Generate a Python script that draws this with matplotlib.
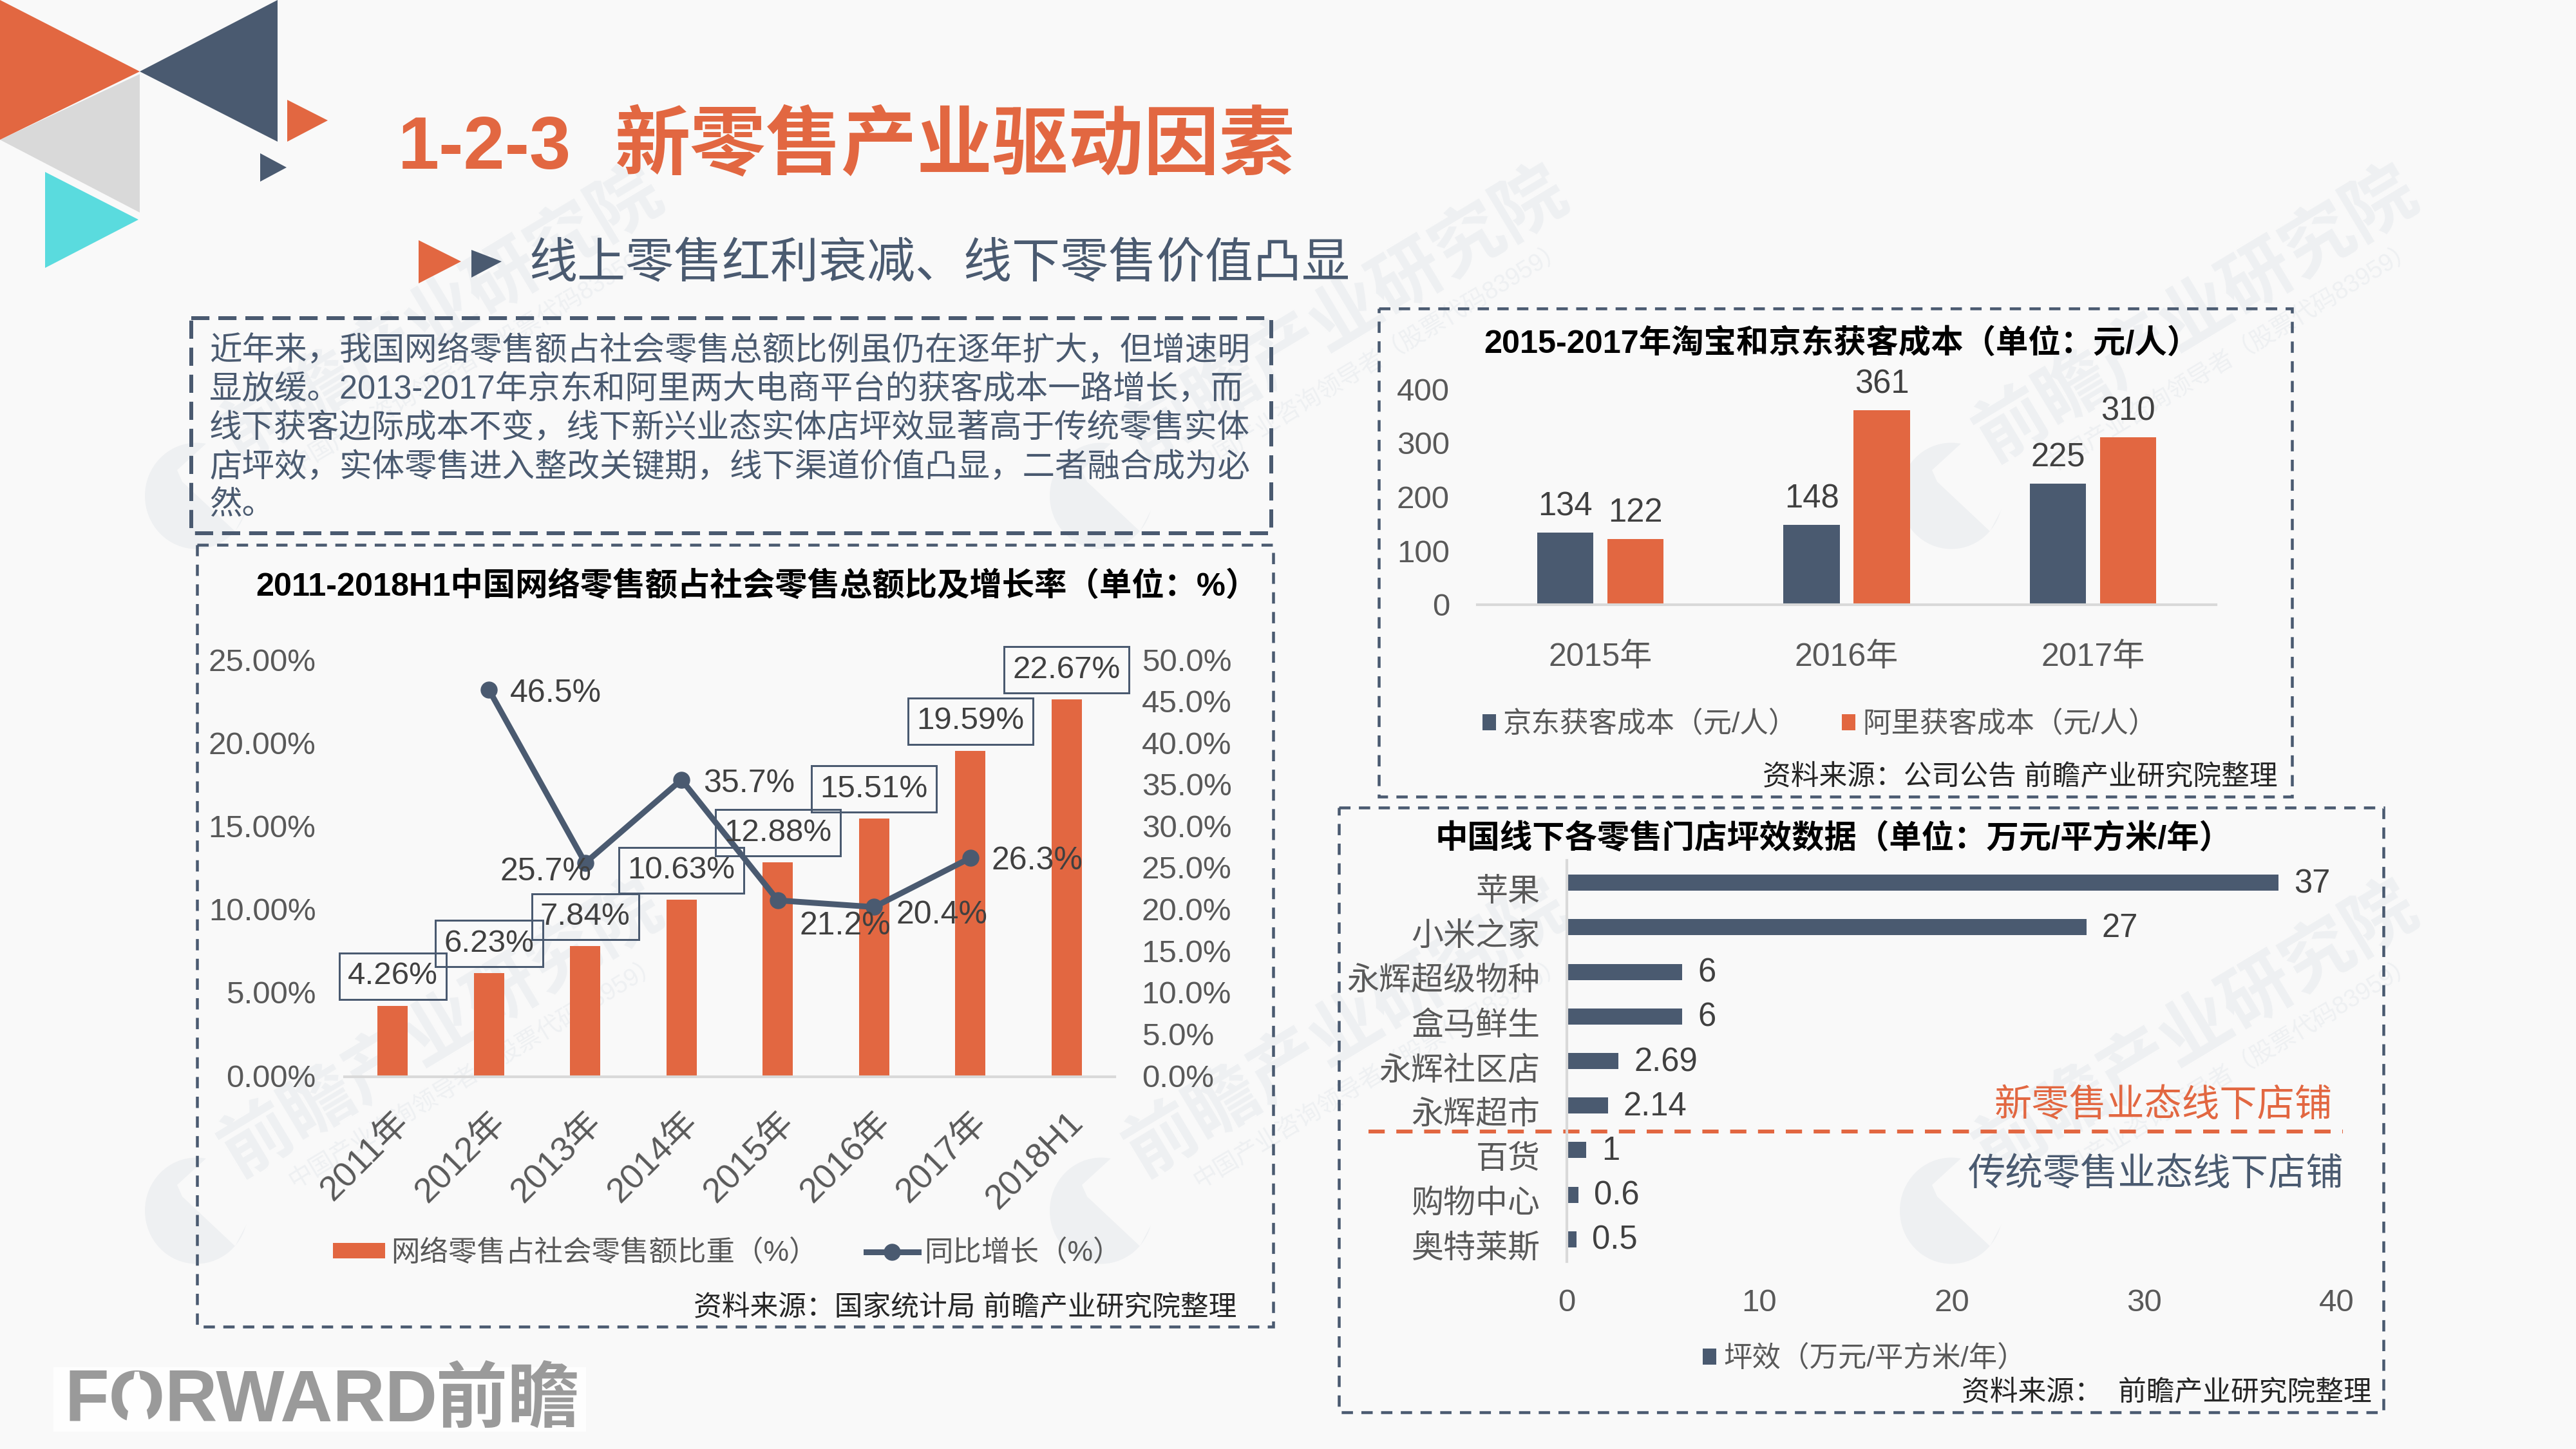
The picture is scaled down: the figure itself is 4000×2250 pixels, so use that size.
import numpy as np
import matplotlib
matplotlib.use("Agg")
import matplotlib.pyplot as plt
from matplotlib.patches import Polygon, Rectangle, Ellipse
from matplotlib.transforms import ScaledTranslation

plt.rcParams['font.family'] = ['Liberation Sans', 'Noto Sans CJK SC', 'DejaVu Sans']

# ---------- data ----------
years1 = ['2011年', '2012年', '2013年', '2014年', '2015年', '2016年', '2017年', '2018H1']
share = [4.26, 6.23, 7.84, 10.63, 12.88, 15.51, 19.59, 22.67]
growth = [np.nan, 46.5, 25.7, 35.7, 21.2, 20.4, 26.3, np.nan]
years2 = ['2015年', '2016年', '2017年']
jd_cost = [134, 148, 225]
ali_cost = [122, 361, 310]
stores = ['苹果', '小米之家', '永辉超级物种', '盒马鲜生', '永辉社区店', '永辉超市', '百货', '购物中心', '奥特莱斯']
efficiency = [37, 27, 6, 6, 2.69, 2.14, 1, 0.6, 0.5]
eff_labels = ['37', '27', '6', '6', '2.69', '2.14', '1', '0.6', '0.5']
body_lines = [
    '近年来，我国网络零售额占社会零售总额比例虽仍在逐年扩大，但增速明',
    '显放缓。2013-2017年京东和阿里两大电商平台的获客成本一路增长，而',
    '线下获客边际成本不变，线下新兴业态实体店坪效显著高于传统零售实体',
    '店坪效，实体零售进入整改关键期，线下渠道价值凸显，二者融合成为必',
    '然。',
]

# ---------- style ----------
BG = '#F9F9F9'; ORANGE = '#E26741'; NAVY = '#4A5A70'; GRAY = '#595959'
DARK = '#404040'; AXIS = '#D9D9D9'; WM = '#EEF0F2'
PX = 0.72
W, H = 4000, 2250

fig = plt.figure(figsize=(40, 22.5), dpi=100, facecolor=BG)
ov = fig.add_axes([0, 0, 1, 1], zorder=0)
ov.set_xlim(0, W); ov.set_ylim(H, 0); ov.axis('off')


def axpx(l, t, r, b):
    a = fig.add_axes([l / W, 1 - b / H, (r - l) / W, (b - t) / H], zorder=2)
    a.patch.set_alpha(0)
    return a


def tri(pts, c, z=3):
    ov.add_patch(Polygon(pts, closed=True, fc=c, ec='none', zorder=z))


def dash_box(l, t, r, b, lw_px=4.5, on=3.9, off=2.9):
    ov.add_patch(Rectangle((l, t), r - l, b - t, fill=False, ec=NAVY, lw=lw_px * PX,
                           linestyle=(0, (on, off)), zorder=3))


def shift_labels(labels, down_px):
    for lab in labels:
        lab.set_transform(lab.get_transform() + ScaledTranslation(0, -down_px * PX / 72, fig.dpi_scale_trans))


# ---------- watermarks ----------
for cx in (305, 1710, 3030):
    for cy in (770, 1880):
        ov.add_patch(Ellipse((cx, cy), 160, 165, fc=WM, ec='none', zorder=1))
        ov.add_patch(Polygon([(cx - 30, cy - 40), (cx + 30, cy - 95), (cx + 110, cy - 40),
                              (cx + 60, cy + 55), (cx - 22, cy - 22)],
                             fc=BG, ec='none', zorder=1))
        ov.text(cx + 382, cy - 280, '前瞻产业研究院', fontsize=80, fontweight='bold', color=WM,
                rotation=31, ha='center', va='center', rotation_mode='anchor', zorder=1)
        ov.text(cx + 432, cy - 215, '中国产业咨询领导者（股票代码83959）', fontsize=27, color=WM,
                rotation=31, ha='center', va='center', rotation_mode='anchor', zorder=1)

# ---------- corner decoration ----------
tri([(217, 115), (217, 330), (0, 217)], AXIS)
tri([(0, 0), (217, 111), (0, 217)], ORANGE)
tri([(431, 0), (217, 111), (431, 220)], NAVY)
tri([(70, 267), (215, 341), (70, 416)], '#5ADBDE')
tri([(446, 155), (509, 187), (446, 220)], ORANGE)
tri([(404, 238), (445, 260), (404, 282)], NAVY)
tri([(650, 373), (716, 406), (650, 440)], ORANGE)
tri([(732, 388), (779, 406), (732, 431)], NAVY)

# ---------- headings ----------
ov.text(618, 232, '1-2-3', fontsize=83, fontweight='bold', color=ORANGE, ha='left', va='center', zorder=4)
ov.text(955, 230, '新零售产业驱动因素', fontsize=84.5, fontweight='bold', color=ORANGE, ha='left', va='center', zorder=4)
ov.text(821, 411, '线上零售红利衰减、线下零售价值凸显', fontsize=54, color=NAVY, ha='left', va='center', zorder=4)

# ---------- summary text ----------
dash_box(297, 494, 1974, 828, lw_px=6, on=4.7, off=2.3)
for ty, line in zip((546, 605, 665, 727, 785), body_lines):
    ov.text(325, ty, line, fontsize=36.4, color=NAVY, ha='left', va='center', zorder=4)

# ---------- chart 1 ----------
dash_box(306, 846, 1977, 2060)
ov.text(397, 910, '2011-2018H1中国网络零售额占社会零售总额比及增长率（单位：%）', fontsize=36.3,
        fontweight='bold', color='black', ha='left', va='center', zorder=4)
ax1 = axpx(535, 1026, 1731, 1672)
x1 = np.arange(len(years1))
b1 = ax1.bar(x1, share, width=0.315, color=ORANGE, label='网络零售占社会零售额比重（%）')
ax1.set_xlim(-0.5, 7.5); ax1.set_ylim(0, 25)
ax1.set_yticks(np.arange(0, 26, 5))
ax1.set_yticklabels([f'{v:.2f}%' for v in np.arange(0, 26, 5)], fontsize=35.5, color=GRAY)
ax1.set_xticks(x1)
ax1.set_xticklabels(years1, fontsize=39, color=GRAY, rotation=45, ha='right', rotation_mode='anchor')
ax1.tick_params(axis='both', length=0)
ax1.tick_params(axis='y', pad=32)
ax1.tick_params(axis='x', pad=33)
shift_labels(ax1.get_yticklabels(), -2)
for s in ('top', 'left', 'right'):
    ax1.spines[s].set_visible(False)
ax1.spines['bottom'].set_color(AXIS); ax1.spines['bottom'].set_linewidth(3)

ax1r = ax1.twinx()
ax1r.patch.set_alpha(0)
ln, = ax1r.plot(x1, growth, color=NAVY, lw=9 * PX, marker='o', ms=25 * PX, label='同比增长（%）')
ax1r.set_ylim(0, 50)
ax1r.set_yticks(np.arange(0, 51, 5))
ax1r.set_yticklabels([f'{v:.1f}%' for v in np.arange(0, 51, 5)], fontsize=35.5, color=GRAY)
ax1r.tick_params(axis='y', length=0, pad=30)
shift_labels(ax1r.get_yticklabels(), -2)
for s in ax1r.spines.values():
    s.set_visible(False)

for i, v in enumerate(share):
    ax1r.annotate(f'{v:.2f}%', (i, v / 25 * 50), xytext=(0, 46 * PX), textcoords='offset points',
                  ha='center', va='center', fontsize=35.5, color=DARK,
                  bbox=dict(boxstyle='square,pad=0.27', fc='none', ec=NAVY, lw=3 * PX))
grow_offsets = {1: (104, -6), 2: (-61, -14), 3: (105, -6), 4: (105, -40), 5: (105, -13), 6: (104, -5)}
for i, (dx, dy) in grow_offsets.items():
    ax1r.annotate(f'{growth[i]:.1f}%', (i, growth[i]), xytext=(dx * PX, dy * PX), textcoords='offset points',
                  ha='center', va='center', fontsize=36, color=DARK)
fig.legend([b1, ln], [b1.get_label(), ln.get_label()], loc='center left',
           bbox_to_anchor=(517 / W, 1 - 1946 / H), ncols=2, frameon=False, fontsize=32,
           labelcolor=GRAY, borderpad=0, borderaxespad=0, handlelength=1.82, handleheight=0.45,
           handletextpad=0.2, columnspacing=1.7)
ov.text(1920, 2032, '资料来源：国家统计局 前瞻产业研究院整理', fontsize=31.5, color='#262626',
        ha='right', va='center', zorder=4)

# ---------- chart 2 ----------
dash_box(2141, 479, 3559, 1237)
ov.text(2304, 534, '2015-2017年淘宝和京东获客成本（单位：元/人）', fontsize=36.3, fontweight='bold',
        color='black', ha='left', va='center', zorder=4)
ax2 = axpx(2294, 604, 3441, 939)
x2 = np.arange(len(years2))
off, bw = 0.1425, 0.228
b2a = ax2.bar(x2 - off, jd_cost, width=bw, color=NAVY, label='京东获客成本（元/人）')
b2b = ax2.bar(x2 + off, ali_cost, width=bw, color=ORANGE, label='阿里获客成本（元/人）')
ax2.set_xlim(-0.5, 2.5); ax2.set_ylim(0, 400)
ax2.set_yticks(np.arange(0, 401, 100))
ax2.set_yticklabels([str(v) for v in range(0, 401, 100)], fontsize=35.5, color=GRAY)
ax2.set_xticks(x2)
ax2.set_xticklabels(years2, fontsize=36, color=GRAY)
ax2.tick_params(axis='both', length=0)
ax2.tick_params(axis='y', pad=31)
ax2.tick_params(axis='x', pad=42)
for s in ('top', 'left', 'right'):
    ax2.spines[s].set_visible(False)
ax2.spines['bottom'].set_color(AXIS); ax2.spines['bottom'].set_linewidth(3)
for bars, vals in ((b2a, jd_cost), (b2b, ali_cost)):
    for r, v in zip(bars, vals):
        ax2.annotate(str(v), (r.get_x() + r.get_width() / 2, v), xytext=(0, 40 * PX),
                     textcoords='offset points', ha='center', va='center', fontsize=36.5, color=DARK,
                     annotation_clip=False)
fig.legend([b2a, b2b], [b2a.get_label(), b2b.get_label()], loc='center left',
           bbox_to_anchor=(2302 / W, 1 - 1125 / H), ncols=2, frameon=False, fontsize=32,
           labelcolor=GRAY, borderpad=0, borderaxespad=0, handlelength=0.47, handleheight=0.47,
           handletextpad=0.25, columnspacing=1.55)
ov.text(3537, 1208, '资料来源：公司公告 前瞻产业研究院整理', fontsize=31.5, color='#262626',
        ha='right', va='center', zorder=4)

# ---------- chart 3 ----------
dash_box(2079, 1254, 3701, 2193)
ov.text(2229, 1302, '中国线下各零售门店坪效数据（单位：万元/平方米/年）', fontsize=36.3, fontweight='bold',
        color='black', ha='left', va='center', zorder=4)
ax3 = axpx(2433, 1336, 3628, 1959)
y3 = np.arange(len(stores))
b3 = ax3.barh(y3, efficiency, height=0.36, color=NAVY, label='坪效（万元/平方米/年）')
ax3.set_xlim(0, 40); ax3.set_ylim(len(stores) - 0.5, -0.5)
ax3.set_yticks(y3)
ax3.set_yticklabels(stores, fontsize=36, color=GRAY)
ax3.set_xticks(np.arange(0, 41, 10))
ax3.set_xticklabels([str(v) for v in range(0, 41, 10)], fontsize=35.5, color=GRAY)
ax3.tick_params(axis='both', length=0)
ax3.tick_params(axis='y', pad=30)
ax3.tick_params(axis='x', pad=30)
shift_labels(ax3.get_yticklabels(), 10)
for s in ('top', 'bottom', 'right'):
    ax3.spines[s].set_visible(False)
ax3.spines['left'].set_color(AXIS); ax3.spines['left'].set_linewidth(3)
for i, (v, t) in enumerate(zip(efficiency, eff_labels)):
    ax3.annotate(t, (v, i), xytext=(24 * PX, -2 * PX), textcoords='offset points', ha='left', va='center',
                 fontsize=36.5, color=DARK)
fig.legend([b3], [b3.get_label()], loc='center left', bbox_to_anchor=(2644 / W, 1 - 2110 / H),
           frameon=False, fontsize=32, labelcolor=GRAY, borderpad=0, borderaxespad=0,
           handlelength=0.47, handleheight=0.47, handletextpad=0.25)
ov.plot([2125, 3638], [1757, 1757], color=ORANGE, lw=6 * PX, linestyle=(0, (4.2, 3)), zorder=4)
ov.text(3622, 1717, '新零售业态线下店铺', fontsize=42, color=ORANGE, ha='right', va='center', zorder=4)
ov.text(3640, 1825, '传统零售业态线下店铺', fontsize=42, color=NAVY, ha='right', va='center', zorder=4)
ov.text(3683, 2164, '资料来源：  前瞻产业研究院整理', fontsize=31.5, color='#262626', ha='right', va='center', zorder=4)

# ---------- logo ----------
ov.add_patch(Rectangle((83, 2123), 827, 100, fc='#FEFEFE', ec='none', zorder=3))
ov.text(101, 2178, 'FORWARD', fontsize=81, fontweight='bold', color='#9A9A9A', ha='left', va='center', zorder=4)
ov.text(899, 2178, '前瞻', fontsize=80, fontweight='bold', color='#9A9A9A', ha='right', va='center', zorder=4)
ov.add_patch(Polygon([(209, 2130), (195, 2215), (233, 2215), (216, 2130)], fc='#FEFEFE', ec='none', zorder=5))

fig.savefig('out.png', dpi=100, facecolor=BG)
